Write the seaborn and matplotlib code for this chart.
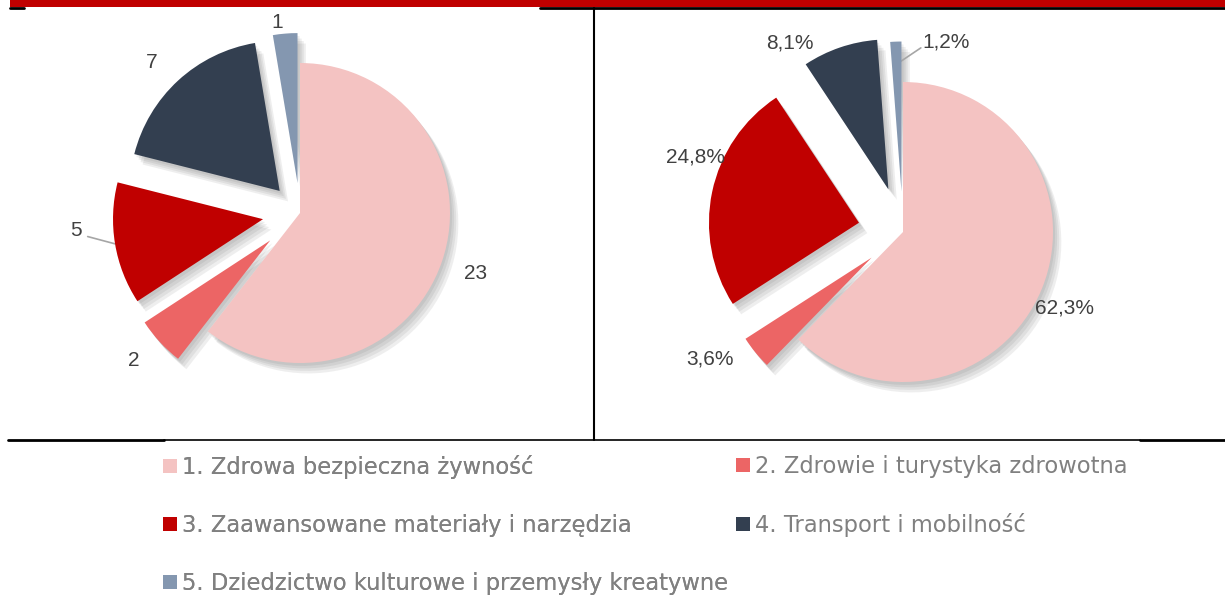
import matplotlib
matplotlib.use("Agg")
import matplotlib.pyplot as plt
import numpy as np
import seaborn as sns
from matplotlib.lines import Line2D
from matplotlib.patches import Patch, Shadow

# data
categories = ["1. Zdrowa bezpieczna żywność",
              "2. Zdrowie i turystyka zdrowotna",
              "3. Zaawansowane materiały i narzędzia",
              "4. Transport i mobilność",
              "5. Dziedzictwo kulturowe i przemysły kreatywne"]
counts = [23, 2, 5, 7, 1]
shares = [62.3, 3.6, 24.8, 8.1, 1.2]
count_labels = ["23", "2", "5", "7", "1"]
share_labels = ["62,3%", "3,6%", "24,8%", "8,1%", "1,2%"]

colors = ["#F4C3C2", "#EC6565", "#C00000", "#333F50", "#8497B0"]

sns.set_theme(style="white")
plt.rcParams["font.family"] = ["Liberation Sans", "DejaVu Sans"]

W, H = 1225, 598
fig = plt.figure(figsize=(W / 100, H / 100), dpi=100)
fig.patch.set_facecolor("white")

R = 150  # pie radius in px


def pie_axes(x0, x1, cx, cy):
    ax = fig.add_axes([x0 / W, 1 - 440 / H, (x1 - x0) / W, 432 / H])
    lims = ((-(cx - x0) / R, (x1 - cx) / R), (-(440 - cy) / R, (cy - 8) / R))
    return ax, lims


def draw_pie(ax, lims, values, labels, explode, lab_dist, lab_shift, leader):
    wedges, _ = ax.pie(values, colors=colors, startangle=90, counterclock=False,
                       explode=explode, radius=1,
                       wedgeprops=dict(linewidth=0, zorder=3))
    # soft shadow: a few faint offset copies
    for w in wedges:
        for ox, oy in [(0.01, -0.014), (0.02, -0.026), (0.03, -0.038), (0.04, -0.05)]:
            ax.add_patch(Shadow(w, ox, oy, facecolor="0.3", edgecolor="none",
                                alpha=0.09, zorder=1))
    total = float(sum(values))
    cum = np.cumsum([0] + list(values))[:-1] / total
    for i, w in enumerate(wedges):
        mid = 90 - 360 * (cum[i] + values[i] / total / 2)
        ang = np.deg2rad(mid + lab_shift[i])
        lx, ly = lab_dist[i] * np.cos(ang), lab_dist[i] * np.sin(ang)
        ax.text(lx, ly, labels[i], ha="center", va="center",
                fontsize=15, color="#404040")
        if leader[i] is not None:
            gap, reach = leader[i]
            m = np.deg2rad(mid)
            ex = (explode[i] + reach) * np.cos(m)
            ey = (explode[i] + reach) * np.sin(m)
            sx = lx + gap * np.sign(ex - lx)
            sy = ly - 0.04
            ax.plot([sx, ex], [sy, ey], color="#A6A6A6", lw=1.2, zorder=2)
    ax.set_xlim(lims[0])
    ax.set_ylim(lims[1])
    ax.set_aspect("auto")
    ax.axis("off")
    return wedges


ax1, lims1 = pie_axes(0, 594, 300, 213)
draw_pie(ax1, lims1, counts, count_labels,
         explode=[0, 0.27, 0.25, 0.2, 0.2],
         lab_dist=[1.24, 1.48, 1.5, 1.41, 1.28],
         lab_shift=[0, -1, -5, 2, 2],
         leader=[None, None, (0.08, 1.0), None, None])

ax2, lims2 = pie_axes(594, 1225, 903, 232)
draw_pie(ax2, lims2, shares, share_labels,
         explode=[0, 0.27, 0.3, 0.3, 0.27],
         lab_dist=[1.19, 1.54, 1.47, 1.47, 1.3],
         lab_shift=[-3, -6, -8, 12, -15],
         leader=[None, None, None, None, (0.17, 0.85)])

# frame lines
def hline(x0, x1, y, lw, color="black"):
    fig.add_artist(Line2D([x0 / W, x1 / W], [1 - y / H, 1 - y / H],
                          color=color, lw=lw, transform=fig.transFigure))

fig.add_artist(plt.Rectangle((10 / W, 1 - 7 / H), 1, 7 / H, color="#C00000",
                             transform=fig.transFigure, lw=0))
hline(10, 24, 7.5, 2)
hline(540, W, 7.5, 2)
hline(8, 164, 440, 2)
hline(164, 1140, 440, 1.2)
hline(1140, W, 440, 2)
fig.add_artist(Line2D([594 / W, 594 / W], [1 - 8 / H, 1 - 440 / H],
                      color="black", lw=1.5, transform=fig.transFigure))

# legend
handles = [Patch(facecolor=c, edgecolor="none") for c in colors]
leg_kw = dict(frameon=False, loc="upper left", labelcolor="#808080",
              handlelength=0.6, handleheight=0.6, handletextpad=0.22,
              labelspacing=1.55, borderpad=0, borderaxespad=0,
              prop={"family": "DejaVu Sans", "size": 16.3})
l1 = fig.legend([handles[0], handles[2], handles[4]],
                [categories[0], categories[2], categories[4]],
                bbox_to_anchor=(163 / W, 1 - 455 / H), **leg_kw)
fig.add_artist(l1)
fig.legend([handles[1], handles[3]], [categories[1], categories[3]],
           bbox_to_anchor=(736 / W, 1 - 455 / H), **leg_kw)

fig.savefig("out.png", dpi=100, facecolor="white")
